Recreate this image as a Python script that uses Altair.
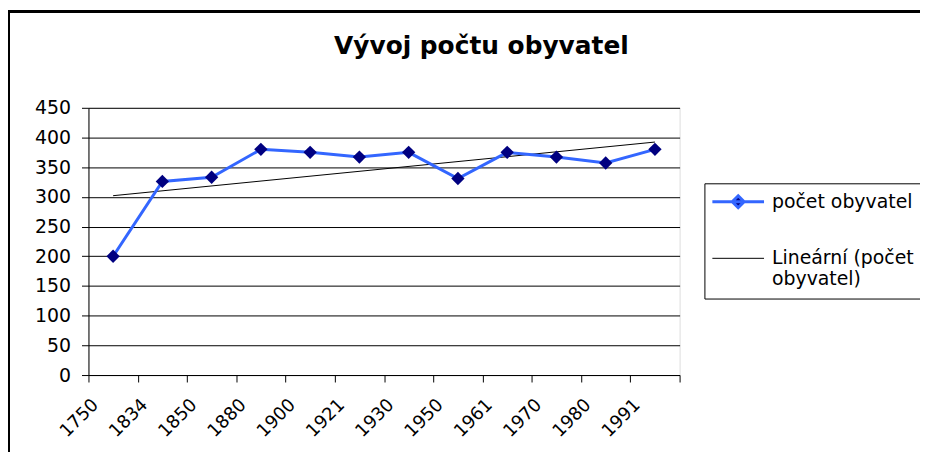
import json
import altair as alt
import pandas as pd

# ---- data ----
years = ["1750", "1834", "1850", "1880", "1900", "1921", "1930",
         "1950", "1961", "1970", "1980", "1991"]
population = [200, 326, 333, 380, 375, 367, 375, 331, 375, 367, 357, 380]
series_names = ["počet obyvatel", "Lineární (počet obyvatel)"]
y_ticks = [0, 50, 100, 150, 200, 250, 300, 350, 400, 450]

df = pd.DataFrame({"rok": years, "pocet": population,
                   "idx": list(range(1, len(years) + 1))})

FONT = "DejaVu Sans"
BLUE = "#3366ff"
NAVY = "#000080"

x_enc = alt.X(
    "rok:N", sort=years, bandPosition=0.5,
    scale=alt.Scale(type="band", paddingInner=0, paddingOuter=0),
    axis=alt.Axis(title=None, tickBand="extent", grid=False,
                  labelAngle=-45, labelAlign="right", labelBaseline="middle",
                  labelOffset=-18, labelPadding=20, tickSize=7,
                  labelFont=FONT, labelFontSize=18, labelColor="black",
                  domainColor="black", tickColor="black", labelOverlap=False),
)
y_enc = alt.Y(
    "pocet:Q",
    scale=alt.Scale(domain=[0, 450], nice=False),
    axis=alt.Axis(title=None, values=y_ticks, grid=True, gridColor="black",
                  gridOpacity=1, tickSize=7, labelPadding=11,
                  labelFont=FONT, labelFontSize=19, labelColor="black",
                  labelFlush=False, domainColor="black", tickColor="black"),
)

base = alt.Chart(df)

frame = base.mark_rect(fill="transparent", stroke="black", strokeWidth=2).encode(
    x=alt.value(-80), x2=alt.value(900), y=alt.value(-97), y2=alt.value(600)
)

line = base.mark_line(color=BLUE, strokeWidth=3).encode(x=x_enc, y=y_enc)
points = base.mark_point(shape="diamond", filled=True, color=NAVY, size=180,
                         opacity=1).encode(x=x_enc, y=y_enc)

years_js = json.dumps(years)
trend = base.transform_regression("idx", "pocet", method="linear").transform_calculate(
    rok=f"{years_js}[round(datum.idx) - 1]"
).mark_line(color="black", strokeWidth=1).encode(x=x_enc, y=y_enc)

legend_def = alt.Legend(
    title=None, orient="none", legendX=620, legendY=76,
    strokeColor="black", padding=9, symbolSize=169, symbolOffset=15.5,
    labelFont=FONT, labelFontSize=19, labelColor="black", labelOffset=24.5,
    labelLimit=300, rowPadding=35,
    labelExpr="lastindexof(datum.label, ' ') > 10 ? [slice(datum.label, 0, lastindexof(datum.label, ' ')), slice(datum.label, lastindexof(datum.label, ' ') + 1)] : datum.label",
)
p_line_diamond = "M-4,0H4M0,-0.92L0.92,0L0,0.92L-0.92,0Z"
p_line = "M-4,0H4"
legend_layer = base.transform_filter("false").transform_calculate(
    serie="'x'"
).mark_point(filled=True, opacity=1).encode(
    x=x_enc, y=y_enc,
    shape=alt.Shape("serie:N", scale=alt.Scale(domain=series_names, range=[p_line_diamond, p_line]), legend=legend_def),
    stroke=alt.Stroke("serie:N", scale=alt.Scale(domain=series_names, range=[BLUE, "black"]), legend=legend_def),
    fill=alt.Fill("serie:N", scale=alt.Scale(domain=series_names, range=[NAVY, "black"]), legend=legend_def),
    strokeWidth=alt.StrokeWidth("serie:N", scale=alt.Scale(domain=series_names, range=[3, 1]), legend=legend_def),
)

chart = alt.layer(frame, trend, line, points, legend_layer).properties(
    width=595, height=269,
    padding={"left": 81, "top": 99, "right": 242, "bottom": 76},
    autosize=alt.AutoSizeParams(type="none"),
    title=alt.TitleParams("Vývoj počtu obyvatel", font=FONT, fontSize=25,
                          fontWeight="bold", color="black", anchor="middle",
                          frame="group", dx=98, offset=-69, baseline="alphabetic"),
).configure_view(strokeWidth=0).configure(background="white")

chart.save("out.html", embed_options={"renderer": "svg", "actions": False})
